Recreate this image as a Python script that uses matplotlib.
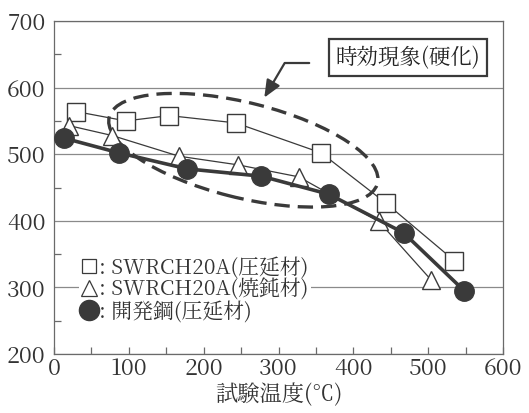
import matplotlib
matplotlib.use('Agg')
import matplotlib.pyplot as plt
from matplotlib.lines import Line2D
from matplotlib.patches import Ellipse

# 明朝体で統一（無い環境では順に代替）
plt.rcParams['font.family'] = ['Noto Serif CJK JP', 'Liberation Serif',
                               'Noto Sans CJK JP']

# 試験温度 [℃] と引張強さ [MPa]
temp_rolled = [30, 96, 154, 243, 357, 443, 535]
ts_rolled = [564, 550, 558, 547, 502, 427, 340]

temp_annealed = [20, 78, 167, 246, 327, 434, 504]
ts_annealed = [543, 528, 497, 484, 466, 399, 311]

temp_dev = [14, 87, 178, 277, 367, 467, 548]
ts_dev = [524, 502, 478, 467, 440, 382, 295]

labels = [': SWRCH20A(圧延材)', ': SWRCH20A(焼鈍材)', ': 開発鋼(圧延材)']

LINE = '#3a3a3a'
GRID = '#8a8a8a'
SPINE = '#6a6a6a'
TEXT = '#333333'

fig = plt.figure(figsize=(5.29, 4.13), dpi=100)
ax = fig.add_axes([0.102, 0.143, 0.849, 0.806])

ax.plot(temp_rolled, ts_rolled, color=LINE, lw=0.9, marker='s', ms=12.5,
        mfc='white', mec=LINE, mew=1.0, zorder=4)
ax.plot(temp_annealed, ts_annealed, color=LINE, lw=0.9, marker='^', ms=13,
        mfc='white', mec=LINE, mew=1.0, zorder=4)
ax.plot(temp_dev, ts_dev, color=LINE, lw=2.6, marker='o', ms=14,
        mfc=LINE, mec=LINE, zorder=5)

# 時効硬化域を囲む破線
ax.add_patch(Ellipse((253, 506), 372, 142, angle=-16, fill=False,
                     ec=LINE, lw=2.4, ls=(0, (4.6, 2.4)), zorder=3))

ax.annotate('', xy=(281, 585), xytext=(341, 637),
            arrowprops=dict(arrowstyle='-|>,head_length=0.7,head_width=0.3',
                            connectionstyle='angle,angleA=0,angleB=59.5,rad=0',
                            color=LINE, lw=1.6, shrinkA=0, shrinkB=0,
                            mutation_scale=15))
ax.text(473, 645, '時効現象(硬化)', fontsize=15.5, ha='center', va='center',
        color='#222222',
        bbox=dict(boxstyle='square,pad=0.3', fc='white', ec=LINE, lw=1.6))

ax.set_xlim(0, 600)
ax.set_ylim(200, 700)
ax.set_xticks(range(0, 601, 100))
ax.set_xticks(range(50, 600, 100), minor=True)
ax.set_yticks(range(200, 701, 100))
ax.set_yticks(range(250, 700, 100), minor=True)
ax.tick_params(axis='both', which='both', direction='in', colors=SPINE,
               labelcolor=TEXT, labelsize=16.5, width=0.9)
ax.tick_params(axis='x', which='both', length=5, top=False, pad=2)
ax.tick_params(axis='y', which='major', length=0, pad=6)
ax.tick_params(axis='y', which='minor', length=5)
ax.grid(axis='y', which='major', color=GRID, lw=0.9)
for s in ax.spines.values():
    s.set_color(SPINE)
    s.set_linewidth(0.9)

ax.set_xlabel('試験温度(℃)', fontsize=16, color=TEXT, labelpad=1)

handles = [
    Line2D([], [], ls='none', marker='s', ms=10.5, mfc='white', mec=LINE, mew=0.9),
    Line2D([], [], ls='none', marker='^', ms=11.5, mfc='white', mec=LINE, mew=0.9),
    Line2D([], [], ls='none', marker='o', ms=14.5, mfc=LINE, mec=LINE),
]
leg = ax.legend(handles, labels, loc='upper left', bbox_to_anchor=(0.055, 0.30),
                fontsize=15, handlelength=0.75, handletextpad=0.15,
                labelspacing=0.0, borderpad=0.1, borderaxespad=0,
                frameon=True, fancybox=False, framealpha=1)
leg.get_frame().set_facecolor('white')
leg.get_frame().set_edgecolor('none')
for t in leg.get_texts():
    t.set_color(TEXT)
leg.set_zorder(6)

fig.savefig('out.png', dpi=100)
